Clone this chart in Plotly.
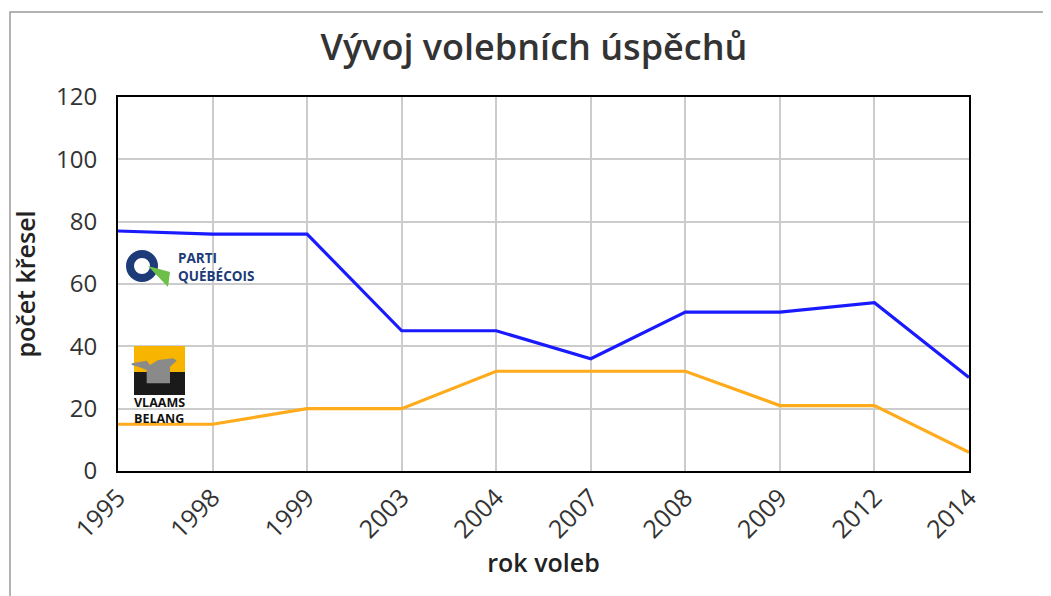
import plotly.graph_objects as go

years = ["1995", "1998", "1999", "2003", "2004", "2007", "2008", "2009", "2012", "2014"]
parti_quebecois = [77, 76, 76, 45, 45, 36, 51, 51, 54, 30]
vlaams_belang = [15, 15, 20, 20, 32, 32, 32, 21, 21, 6]
y_ticks = [0, 20, 40, 60, 80, 100, 120]

OFF = 8  # page body margin
W, H = 1051 - OFF, 596 - OFF
# plot area in viewport pixels
L, R, T, B = 118, 969, 97, 471

def px(x):
    return (x - L) / (R - L)

def py(y):
    return (B - y) / (B - T)

fig = go.Figure()
fig.add_trace(go.Scatter(x=years, y=parti_quebecois, mode="lines", name="Parti Québécois",
                         line=dict(color="#1a1aff", width=3.2)))
fig.add_trace(go.Scatter(x=years, y=vlaams_belang, mode="lines", name="Vlaams Belang",
                         line=dict(color="#ffab1c", width=3.2)))

def path(pts):
    return "M " + " L ".join(f"{px(a)},{py(b)}" for a, b in pts) + " Z"

shapes = []
# outer frame
shapes.append(dict(type="rect", xref="paper", yref="paper", x0=px(10), x1=px(1080), y0=py(620), y1=py(12),
                   line=dict(color="#9a9a9a", width=1.5), fillcolor="rgba(0,0,0,0)", layer="below"))
# PQ logo
shapes.append(dict(type="circle", xref="paper", yref="paper", x0=px(130), x1=px(154), y0=py(278), y1=py(254),
                   line=dict(color="#1d3b78", width=8), fillcolor="rgba(0,0,0,0)"))
shapes.append(dict(type="path", xref="paper", yref="paper", path=path([(148, 266), (170, 272), (168, 287)]),
                   fillcolor="#6cc04a", line=dict(width=0)))
# VB logo
shapes.append(dict(type="rect", xref="paper", yref="paper", x0=px(134), x1=px(185), y0=py(372), y1=py(346),
                   fillcolor="#f7b500", line=dict(width=0)))
shapes.append(dict(type="rect", xref="paper", yref="paper", x0=px(134), x1=px(185), y0=py(395), y1=py(372),
                   fillcolor="#1a1a1a", line=dict(width=0)))
shapes.append(dict(type="path", xref="paper", yref="paper",
                   path=path([(131.7, 363.3), (146.7, 360.7), (150, 365), (158.3, 360), (173.3, 358.3), (176.7, 360.7),
                              (170, 366.7), (170, 383.3), (146.7, 383.3), (146.7, 370), (138.3, 366.7), (131.7, 365)]),
                   fillcolor="#8a8a8a", line=dict(width=0)))

annotations = [
    dict(text="PARTI<br>QUÉBÉCOIS", xref="paper", yref="paper", x=px(176), y=py(267), xanchor="left", yanchor="middle",
         showarrow=False, align="left", font=dict(family="Open Sans", size=13.5, color="#1d3b78", weight="bold")),
    dict(text="VLAAMS<br>BELANG", xref="paper", yref="paper", x=px(159), y=py(410), xanchor="center", yanchor="middle",
         showarrow=False, align="left", font=dict(family="Open Sans", size=12.5, color="#111111", weight="bold")),
]

fig.update_layout(
    width=W, height=H,
    margin=dict(l=L - OFF, r=1051 - R, t=T - OFF, b=596 - B),
    paper_bgcolor="white", plot_bgcolor="white",
    showlegend=False,
    shapes=shapes, annotations=annotations,
    title=dict(text="Vývoj volebních úspěchů", x=px(534), xref="paper", xanchor="center",
               y=1 - (47 - OFF) / H, yanchor="middle",
               font=dict(family="Open Sans", size=36, color="#333333", weight=600)),
    font=dict(family="Open Sans", color="#333333"),
)
fig.update_xaxes(
    type="category", tickangle=-45, tickfont=dict(size=25, color="#333333"),
    showgrid=True, gridcolor="#cccccc", gridwidth=1.5,
    showline=True, linecolor="black", linewidth=2, mirror=True, ticks="",
    range=[0, len(years) - 1],
    title=dict(text="rok voleb", font=dict(size=25, color="#222222", weight=600), standoff=6),
)
fig.update_yaxes(
    range=[0, 120], tickvals=y_ticks, tickfont=dict(size=24, color="#333333"),
    showgrid=True, gridcolor="#cccccc", gridwidth=1.5, zeroline=False,
    showline=True, linecolor="black", linewidth=2, mirror=True, ticks="", ticklabelstandoff=14,
    title=dict(text="počet křesel", font=dict(size=25, color="#222222", weight=600), standoff=14),
)
fig.write_html("out.html")
